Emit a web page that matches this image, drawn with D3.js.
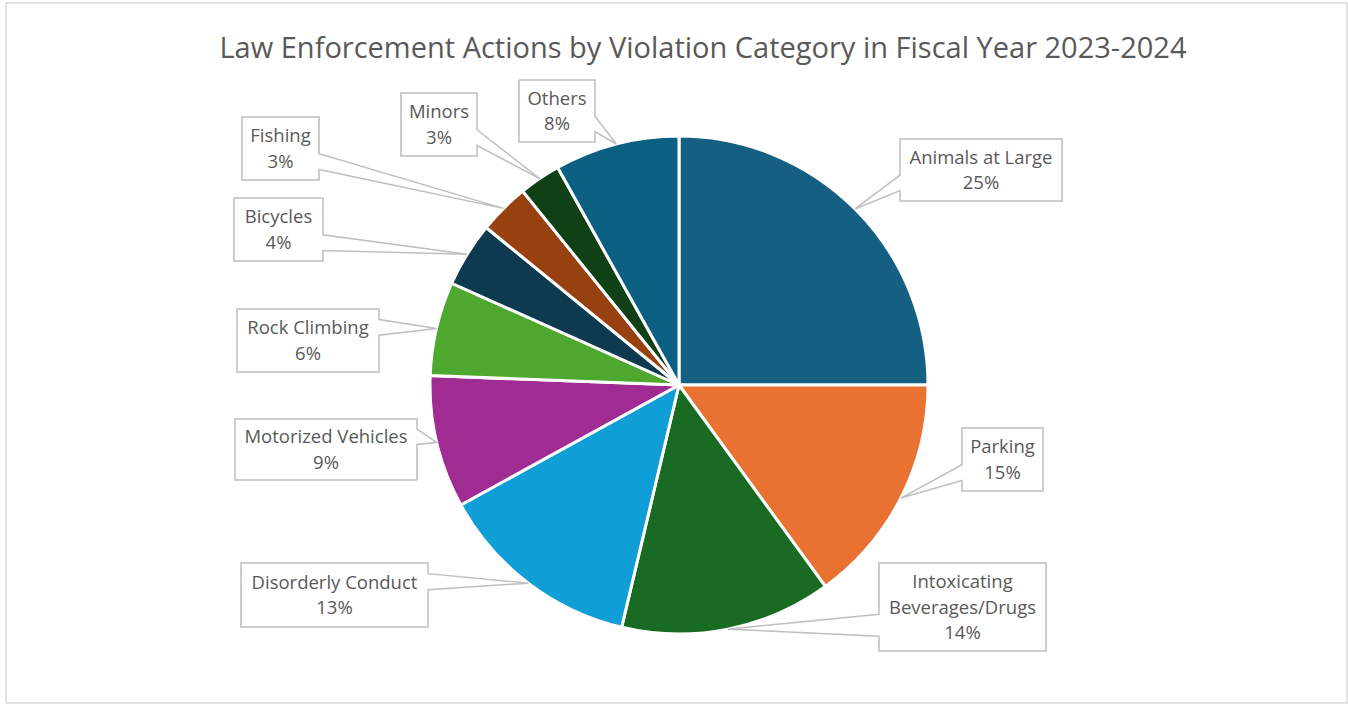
<!DOCTYPE html>
<html>
<head>
<meta charset="utf-8">
<script src="https://cdn.jsdelivr.net/npm/d3@7"></script>
<style>
  html, body { margin: 0; padding: 0; background: #fff; }
  svg { display: block; font-family: "Open Sans", "Noto Sans", sans-serif; }
  .title { fill: #595959; font-size: 29px; }
  .lbl { fill: #595959; font-size: 18.5px; }
  .box { fill: #fff; stroke: #bfbfbf; stroke-width: 1.5; }
  .slice { stroke: #fff; stroke-width: 3; }
</style>
</head>
<body>
<div id="chart"></div>
<script>
// data
const categories = ["Animals at Large", "Parking", "Intoxicating Beverages/Drugs", "Disorderly Conduct",
  "Motorized Vehicles", "Rock Climbing", "Bicycles", "Fishing", "Minors", "Others"];
const shares = [25.0, 15.0, 13.7, 13.3, 8.6, 6.1, 4.2, 3.3, 2.7, 8.1];
const labelLines = [["Animals at Large"], ["Parking"], ["Intoxicating", "Beverages/Drugs"], ["Disorderly Conduct"],
  ["Motorized Vehicles"], ["Rock Climbing"], ["Bicycles"], ["Fishing"], ["Minors"], ["Others"]];
const colors = ["#156082", "#e97132", "#196b24", "#0f9ed5", "#a02b93", "#4ea72e", "#0d3a4e", "#974010", "#0f4016", "#0b5f83"];

// label boxes were placed by hand in the original: [left, top, width, height]
const boxes = [[900, 139, 162, 62], [962, 428, 81, 63], [879, 563, 167, 88], [241, 563, 187, 64],
  [235, 419, 182, 61], [237, 309, 142, 63], [234, 198, 89, 63], [242, 117, 77, 63], [401, 93, 76, 63], [519, 80, 76, 62]];

const W = 1348, H = 704;
const cx = 679, cy = 385, r = 249;

const svg = d3.select("#chart").append("svg")
  .attr("width", W).attr("height", H);

svg.append("rect")
  .attr("x", 6).attr("y", 3).attr("width", 1341).attr("height", 700)
  .attr("fill", "#fff").attr("stroke", "#d9d9d9").attr("stroke-width", 1.5);

svg.append("text")
  .attr("class", "title")
  .attr("x", 703).attr("y", 58)
  .attr("text-anchor", "middle")
  .text("Law Enforcement Actions by Violation Category in Fiscal Year 2023-2024");

const data = categories.map((c, i) => ({ name: c, value: shares[i], lines: labelLines[i], color: colors[i], box: boxes[i] }));
const total = d3.sum(shares);

const pie = d3.pie().sort(null).value(d => d.value);
const arc = d3.arc().innerRadius(0).outerRadius(r);
const arcs = pie(data);

const g = svg.append("g").attr("transform", `translate(${cx},${cy})`);

g.selectAll("path.slice")
  .data(arcs)
  .enter().append("path")
  .attr("class", "slice")
  .attr("d", arc)
  .attr("fill", d => d.data.color);

// excel style wedge callout, pointer tip on the outer rim at the mid angle
function calloutPath(b, tip) {
  const [x, y, w, h] = b;
  const mx = x + w / 2, my = y + h / 2;
  const dx = tip[0] - mx, dy = tip[1] - my;
  let pts;
  if (Math.abs(dx * h / w) > Math.abs(dy)) {
    const y1 = y + h * (dy > 0 ? 7 : 2) / 12, y2 = y + h * (dy > 0 ? 10 : 5) / 12;
    if (dx < 0) pts = [[x, y], [x + w, y], [x + w, y + h], [x, y + h], [x, y2], tip, [x, y1]];
    else pts = [[x, y], [x + w, y], [x + w, y1], tip, [x + w, y2], [x + w, y + h], [x, y + h]];
  } else {
    const x1 = x + w * (dx > 0 ? 7 : 2) / 12, x2 = x + w * (dx > 0 ? 10 : 5) / 12;
    if (dy < 0) pts = [[x, y], [x1, y], tip, [x2, y], [x + w, y], [x + w, y + h], [x, y + h]];
    else pts = [[x, y], [x + w, y], [x + w, y + h], [x2, y + h], tip, [x1, y + h], [x, y + h]];
  }
  return "M" + pts.map(p => p.join(",")).join("L") + "Z";
}

const labels = svg.selectAll("g.label")
  .data(arcs)
  .enter().append("g")
  .attr("class", "label");

labels.append("path")
  .attr("class", "box")
  .attr("d", d => {
    const a = (d.startAngle + d.endAngle) / 2;
    const tip = [cx + r * Math.sin(a), cy - r * Math.cos(a)];
    return calloutPath(d.data.box, tip);
  });

labels.each(function(d) {
  const [x, y, w, h] = d.data.box;
  const lines = d.data.lines.concat([d3.format(".0%")(d.data.value / total)]);
  const step = 25.5;
  const t = d3.select(this).append("text")
    .attr("class", "lbl")
    .attr("text-anchor", "middle");
  lines.forEach((s, i) => {
    t.append("tspan")
      .attr("x", x + w / 2)
      .attr("y", y + h / 2 + (i - (lines.length - 1) / 2) * step + 6.5)
      .text(s);
  });
});
</script>
</body>
</html>
